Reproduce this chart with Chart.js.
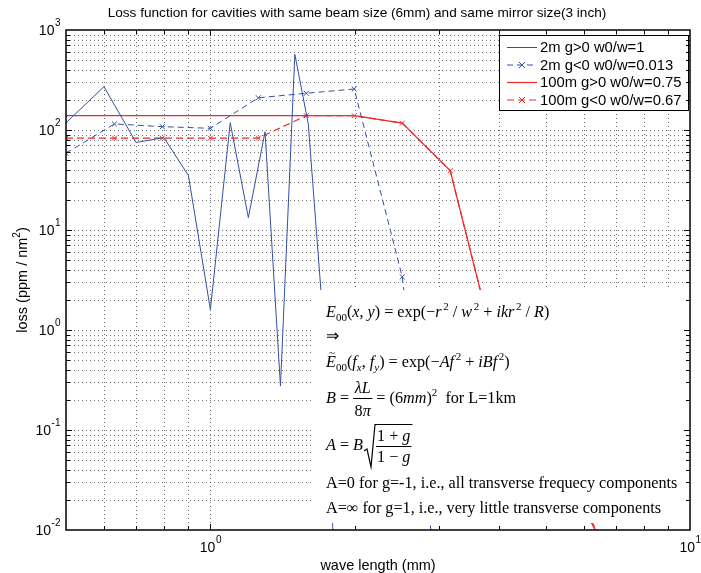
<!DOCTYPE html>
<html>
<head>
<meta charset="utf-8">
<script src="https://cdn.jsdelivr.net/npm/chart.js@4.4.0/dist/chart.umd.min.js"></script>
<style>
html, body { margin: 0; padding: 0; background: #fff; }
#wrap { width: 701px; height: 573px; }
</style>
</head>
<body>
<div id="wrap"><canvas id="lossChart" width="701" height="573"></canvas></div>
<script>
// wave length (mm), 2m g>0 run was sampled every 0.1 mm
var waveLin = [0.5, 0.6, 0.7, 0.8, 0.9, 1.0, 1.1, 1.2, 1.3, 1.4, 1.5, 1.6, 1.7, 1.8, 1.9];
// the other runs are sampled on 10^(k/10)
var waveLog = [0.5, 0.631, 0.794, 1.0, 1.259, 1.585, 1.995, 2.512, 3.162, 3.981, 5.012, 6.31, 7.943];

// loss (ppm / nm^2)
var loss2mPos   = [118, 271, 75, 84, 35, 1.6, 118, 13.3, 96, 0.275, 571, 115, 2.5, 0.0105, 0.0001];
var loss2mNeg   = [58.5, 115, 108, 104, 210, 233, 257, 3.4, 0.0002];
var loss100mPos = [139, 139, 139, 139, 139, 139, 139, 117, 39.2, 0.49, 0.09, 0.011, 0.0001];
var loss100mNeg = [83, 83, 83, 83, 83, 139, 139, 117, 39.2, 0.49, 0.095, 0.0105, 0.0001];

var seriesNames = ['2m g>0 w0/w=1', '2m g<0 w0/w=0.013', '100m g>0 w0/w=0.75', '100m g<0 w0/w=0.67'];

// decade exponents that get a 10^n label
var xTickExp = [0, 1];
var yTickExp = [-2, -1, 0, 1, 2, 3];

var BLUE = '#3050a8';
var RED = '#f02828';
var SANS = '"Liberation Sans", Arial, sans-serif';
var SERIF = '"Liberation Serif", "Times New Roman", serif';
var MARK = 3.5;

function pts(xs, ys) {
    return ys.map(function (v, i) { return { x: xs[i], y: v }; });
}

// markers only where the point sits inside the plot
function markerRadius(c) {
    return c.raw && c.raw.y >= 0.02 ? MARK : 0;
}

// all 1..9 x 10^k values strictly inside (min, max)
function logSteps(min, max) {
    var out = [];
    for (var e = Math.floor(Math.log10(min)); e <= Math.ceil(Math.log10(max)); e++) {
        for (var m = 1; m <= 9; m++) {
            var v = m * Math.pow(10, e);
            if (v > min * 1.0001 && v < max * 0.9999) out.push({ v: v, major: m === 1 });
        }
    }
    return out;
}

function pow10(ctx, exp, x, y, align) {
    var base = '10', sup = String(exp);
    ctx.font = '14px ' + SANS;
    var wb = ctx.measureText(base).width;
    ctx.font = '10px ' + SANS;
    var ws = ctx.measureText(sup).width;
    var left = align === 'right' ? x - wb - ws : x - (wb + ws) / 2;
    ctx.textBaseline = 'middle';
    ctx.textAlign = 'left';
    ctx.font = '14px ' + SANS;
    ctx.fillText(base, left, y);
    ctx.font = '10px ' + SANS;
    ctx.fillText(sup, left + wb + 0.5, y - 7.5);
}

// rich text run: [text, flags] with i = italic, b = subscript, p = superscript
function run(ctx, parts, x, y, F) {
    ctx.textBaseline = 'alphabetic';
    ctx.textAlign = 'left';
    var prevItalic = false;
    parts.forEach(function (p) {
        var f = p[1] || '';
        var sup = f.indexOf('p') >= 0;
        var small = f.indexOf('b') >= 0 || sup;
        var size = small ? F * 0.68 : F;
        if (sup && prevItalic) x += F * 0.1;
        ctx.font = (f.indexOf('i') >= 0 ? 'italic ' : '') + size + 'px ' + SERIF;
        var dy = f.indexOf('b') >= 0 ? F * 0.25 : (sup ? -F * 0.42 : 0);
        ctx.fillText(p[0], x, y + dy);
        x += ctx.measureText(p[0]).width;
        prevItalic = f.indexOf('i') >= 0;
    });
    return x;
}

function runWidth(ctx, parts, F) {
    var w = 0;
    parts.forEach(function (p) {
        var f = p[1] || '';
        var small = f.indexOf('b') >= 0 || f.indexOf('p') >= 0;
        ctx.font = (f.indexOf('i') >= 0 ? 'italic ' : '') + (small ? F * 0.68 : F) + 'px ' + SERIF;
        w += ctx.measureText(p[0]).width;
    });
    return w;
}

function crossMark(ctx, x, y, r) {
    ctx.beginPath();
    ctx.moveTo(x - r, y - r); ctx.lineTo(x + r, y + r);
    ctx.moveTo(x - r, y + r); ctx.lineTo(x + r, y - r);
    ctx.stroke();
}

var matlabAxes = {
    id: 'matlabAxes',
    beforeDatasetsDraw: function (chart) {
        var ctx = chart.ctx, a = chart.chartArea;
        var xs = chart.scales.x, ys = chart.scales.y;
        ctx.save();
        ctx.strokeStyle = 'rgba(0,0,0,0.55)';
        ctx.lineWidth = 1;
        ctx.setLineDash([1, 3]);
        logSteps(0.5, 10).forEach(function (t) {
            var px = Math.round(xs.getPixelForValue(t.v)) + 0.5;
            ctx.beginPath(); ctx.moveTo(px, a.top); ctx.lineTo(px, a.bottom); ctx.stroke();
        });
        logSteps(0.01, 1000).forEach(function (t) {
            var py = Math.round(ys.getPixelForValue(t.v)) + 0.5;
            ctx.beginPath(); ctx.moveTo(a.left, py); ctx.lineTo(a.right, py); ctx.stroke();
        });
        ctx.restore();
    },
    afterDatasetsDraw: function (chart) {
        var ctx = chart.ctx, a = chart.chartArea;
        var xs = chart.scales.x, ys = chart.scales.y;
        ctx.save();

        // text box of the formulas, opaque like the matlab text background
        ctx.fillStyle = '#fff';
        ctx.fillRect(313, 290, a.right - 313, 233);

        ctx.fillStyle = '#000';
        var F = 16.2, x0 = 326;
        run(ctx, [['E', 'i'], ['00', 'b'], ['('], ['x', 'i'], [', '], ['y', 'i'], [') = exp(\u2212'], ['r', 'i'], ['2', 'p'],
            [' / '], ['w', 'i'], ['2', 'p'], [' + '], ['ikr', 'i'], ['2', 'p'], [' / '], ['R', 'i'], [')']], x0, 317, F);
        run(ctx, [['\u21D2']], x0, 341, F);
        run(ctx, [['E', 'i'], ['00', 'b'], ['('], ['f', 'i'], ['x', 'ib'], [', '], ['f', 'i'], ['y', 'ib'], [') = exp(\u2212'],
            ['Af', 'i'], ['2', 'p'], [' + '], ['iBf', 'i'], ['2', 'p'], [')']], x0, 367, F);
        ctx.font = (F * 0.7) + 'px ' + SERIF;
        ctx.fillText('~', x0 + 3, 356);

        // B = lambda L / 8 pi
        var xb = run(ctx, [['B', 'i'], [' = ']], x0, 403, F);
        var num = [['\u03BBL', 'i']], den = [['8'], ['\u03C0', 'i']];
        var wn = runWidth(ctx, num, F), wd = runWidth(ctx, den, F), wf = Math.max(wn, wd) + 3;
        run(ctx, num, xb + (wf - wn) / 2, 393, F);
        run(ctx, den, xb + (wf - wd) / 2, 416, F);
        ctx.fillRect(xb, 398, wf, 1);
        run(ctx, [[' = (6'], ['mm', 'i'], [')'], ['2', 'p'], ['  for L=1km']], xb + wf, 403, F);

        // A = B sqrt((1+g)/(1-g))
        var xa = run(ctx, [['A', 'i'], [' = '], ['B', 'i']], x0, 450, F) + 1;
        var n2 = [['1 + '], ['g', 'i']], d2 = [['1 \u2212 '], ['g', 'i']];
        var wn2 = runWidth(ctx, n2, F), wd2 = runWidth(ctx, d2, F), wf2 = Math.max(wn2, wd2) + 2;
        ctx.strokeStyle = '#000';
        ctx.lineWidth = 1.2;
        ctx.beginPath();
        ctx.moveTo(xa, 451); ctx.lineTo(xa + 3, 449); ctx.lineTo(xa + 7, 467);
        ctx.lineTo(xa + 11, 424.5); ctx.lineTo(xa + 13 + wf2, 424.5);
        ctx.stroke();
        var xf = xa + 12;
        run(ctx, n2, xf + (wf2 - wn2) / 2, 441, F);
        run(ctx, d2, xf + (wf2 - wd2) / 2, 462, F);
        ctx.fillRect(xf, 446, wf2, 1);

        run(ctx, [['A=0 for g=-1, i.e., all transverse frequecy components']], x0, 488, F);
        run(ctx, [['A=\u221E for g=1, i.e., very little transverse components']], x0, 513, F);

        // legend
        ctx.fillStyle = '#fff';
        ctx.fillRect(499.5, 35.5, 189, 75);
        ctx.strokeStyle = '#000';
        ctx.lineWidth = 1;
        ctx.strokeRect(499.5, 35.5, 189, 75);
        var rows = [47.5, 65, 82.5, 100];
        chart.data.datasets.forEach(function (ds, i) {
            var y = rows[i];
            ctx.strokeStyle = ds.borderColor;
            ctx.lineWidth = ds.borderWidth;
            ctx.setLineDash(ds.borderDash || []);
            ctx.beginPath(); ctx.moveTo(507, y); ctx.lineTo(537, y); ctx.stroke();
            ctx.setLineDash([]);
            if (ds.pointStyle) {
                ctx.lineWidth = 1;
                crossMark(ctx, 522, y, 3);
            }
            ctx.fillStyle = '#000';
            ctx.font = '14.8px ' + SANS;
            ctx.textBaseline = 'middle';
            ctx.textAlign = 'left';
            ctx.fillText(ds.label, 540, y + 0.5);
        });

        // axes box and inward ticks
        ctx.strokeStyle = '#000';
        ctx.lineWidth = 1;
        logSteps(0.5, 10).forEach(function (t) {
            var px = Math.round(xs.getPixelForValue(t.v)) + 0.5, len = t.major ? 6 : 4;
            ctx.beginPath();
            ctx.moveTo(px, a.bottom); ctx.lineTo(px, a.bottom - len);
            ctx.moveTo(px, a.top); ctx.lineTo(px, a.top + len);
            ctx.stroke();
        });
        logSteps(0.01, 1000).forEach(function (t) {
            var py = Math.round(ys.getPixelForValue(t.v)) + 0.5, len = t.major ? 6 : 4;
            ctx.beginPath();
            ctx.moveTo(a.left, py); ctx.lineTo(a.left + len, py);
            ctx.moveTo(a.right, py); ctx.lineTo(a.right - len, py);
            ctx.stroke();
        });
        ctx.lineWidth = 1.5;
        ctx.strokeRect(a.left, a.top, a.right - a.left, a.bottom - a.top);

        // tick labels
        ctx.fillStyle = '#000';
        xTickExp.forEach(function (e) {
            pow10(ctx, e, xs.getPixelForValue(Math.pow(10, e)), a.bottom + 18, 'center');
        });
        yTickExp.forEach(function (e) {
            pow10(ctx, e, a.left - 6, ys.getPixelForValue(Math.pow(10, e)) + 1, 'right');
        });

        // titles
        ctx.textAlign = 'center';
        ctx.textBaseline = 'middle';
        ctx.font = '13.6px ' + SANS;
        ctx.fillText('Loss function for cavities with same beam size (6mm) and same mirror size(3 inch)', 357, 13);
        ctx.font = '14.5px ' + SANS;
        ctx.fillText('wave length (mm)', (a.left + a.right) / 2, 566);
        ctx.save();
        ctx.translate(23, (a.top + a.bottom) / 2);
        ctx.rotate(-Math.PI / 2);
        ctx.font = '14.5px ' + SANS;
        var t1 = 'loss (ppm / nm', t2 = ')';
        var w1 = ctx.measureText(t1).width;
        var w3 = ctx.measureText(t2).width;
        ctx.font = '10px ' + SANS;
        var w2 = ctx.measureText('2').width;
        var start = -(w1 + w2 + w3) / 2;
        ctx.textAlign = 'left';
        ctx.font = '14.5px ' + SANS;
        ctx.fillText(t1, start, 0);
        ctx.fillText(t2, start + w1 + w2, 0);
        ctx.font = '10px ' + SANS;
        ctx.fillText('2', start + w1, -6);
        ctx.restore();

        ctx.restore();
    }
};

new Chart(document.getElementById('lossChart'), {
    type: 'line',
    data: {
        datasets: [{
            label: seriesNames[0],
            data: pts(waveLin, loss2mPos),
            borderColor: BLUE,
            borderWidth: 1,
            pointRadius: 0
        }, {
            label: seriesNames[1],
            data: pts(waveLog, loss2mNeg),
            borderColor: BLUE,
            borderWidth: 1,
            borderDash: [6, 4],
            pointStyle: 'crossRot',
            pointRadius: markerRadius,
            pointBorderColor: BLUE,
            pointBorderWidth: 1
        }, {
            label: seriesNames[2],
            data: pts(waveLog, loss100mPos),
            borderColor: RED,
            borderWidth: 1.2,
            pointRadius: 0
        }, {
            label: seriesNames[3],
            data: pts(waveLog, loss100mNeg),
            borderColor: RED,
            borderWidth: 1.2,
            borderDash: [7, 4],
            pointStyle: 'crossRot',
            pointRadius: markerRadius,
            pointBorderColor: RED,
            pointBorderWidth: 1
        }]
    },
    options: {
        responsive: false,
        animation: false,
        events: [],
        layout: { padding: { left: 66, top: 30, right: 11, bottom: 43 } },
        elements: { line: { tension: 0, fill: false } },
        scales: {
            x: { type: 'logarithmic', min: 0.5, max: 10, display: false },
            y: { type: 'logarithmic', min: 0.01, max: 1000, display: false }
        },
        plugins: {
            legend: { display: false },
            tooltip: { enabled: false }
        }
    },
    plugins: [matlabAxes]
});
</script>
</body>
</html>
